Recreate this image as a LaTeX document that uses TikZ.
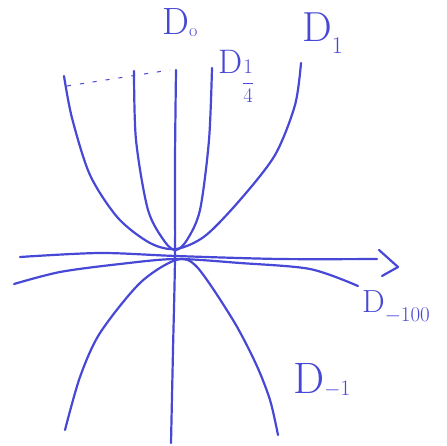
\documentclass[tikz,border=0pt]{standalone}
\definecolor{ink}{RGB}{72,72,214}
\begin{document}
\begin{tikzpicture}[x=1pt,y=-1pt,
  curve/.style={draw=ink, line width=2.2pt, line cap=round, line join=round},
  lab/.style={text=ink, inner sep=0pt, anchor=base west}]
\useasboundingbox[fill=white] (0,0) rectangle (446,446);
% D0 : vertical line
\draw[curve] plot[smooth] coordinates {(176,70) (175,160) (175,257) (173,350) (171,443)};
% D1
\draw[curve] plot[smooth] coordinates {(64,76) (72,118) (90,175) (118,218) (150,243) (176,249) (205,236) (240,200) (275,155) (295,105) (301,63)};
% D1/4
\draw[curve] plot[smooth] coordinates {(134,71) (136,140) (148,210) (165,242) (176,250) (187,240) (200,210) (209,140) (212,68)};
% dashed
\draw[ink, line width=1pt, dash pattern=on 4pt off 9pt] (67,86) -- (170,70);
% axis
\draw[curve] plot[smooth] coordinates {(20,257) (100,253) (176,256) (280,259) (377,259)};
\draw[curve] (379,250) -- (398,267) -- (382,276);
% D-100
\draw[curve] plot[smooth] coordinates {(14,284) (60,272) (120,264) (176,259) (240,263) (310,269) (358,286)};
% D-1
\draw[curve] plot[smooth] coordinates {(65,430) (80,377) (100,333) (140,283) (176,260) (197,267) (233,320) (256,364) (270,400) (278,435)};
% labels
\node[lab, font=\fontsize{38}{38}\selectfont] (l0) at (162,35) {D\raisebox{-2pt}{\fontsize{18}{18}\selectfont o}};
\node[lab, font=\fontsize{42}{42}\selectfont] (l1) at (302,42) {D\raisebox{-12pt}{\fontsize{24}{24}\selectfont 1}};
\node[lab, font=\fontsize{34}{34}\selectfont] (l14) at (218,74) {D\raisebox{-14pt}{\fontsize{21}{21}\selectfont$\displaystyle\frac{1}{4}$}};
\node[lab, font=\fontsize{32}{32}\selectfont] (l100) at (362,312) {D\raisebox{-9pt}{\fontsize{21}{21}\selectfont $-$100}};
\node[lab, font=\fontsize{44}{44}\selectfont] (lm1) at (293,393) {D\raisebox{-2pt}{\fontsize{22}{22}\selectfont $-$1}};
\end{tikzpicture}
\end{document}
